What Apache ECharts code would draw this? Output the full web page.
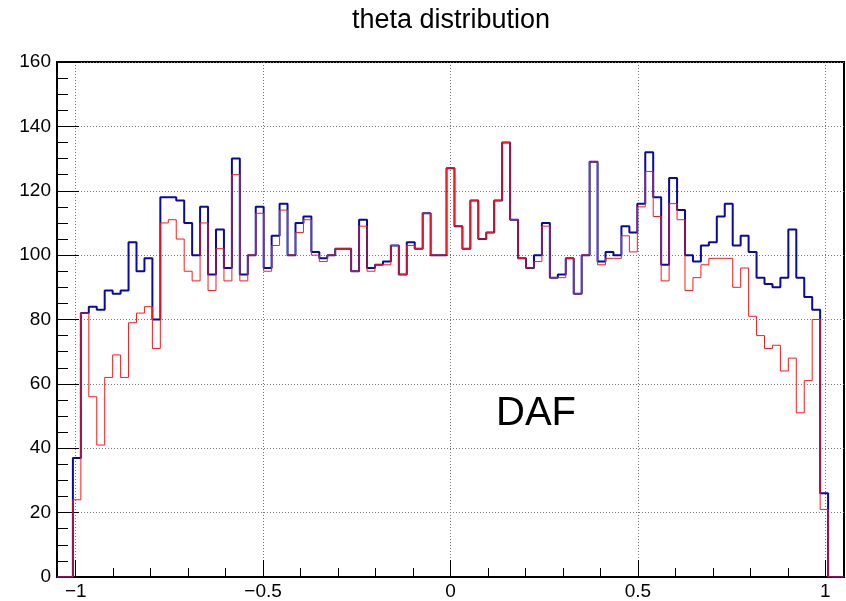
<!DOCTYPE html>
<html>
<head>
<meta charset="utf-8">
<script src="https://cdn.jsdelivr.net/npm/echarts@6/dist/echarts.min.js"></script>
<style>
  html, body { margin: 0; padding: 0; background: #fff; }
  #main { width: 846px; height: 601px; }
</style>
</head>
<body>
<div id="main"></div>
<script>
// histogram range, 99 bins from -1.05 to 1.05
var xMin = -1.05;
var xMax = 1.05;

// bin contents, blue histogram (thick)
var blueCounts = [
  0, 0, 37, 82, 84, 83, 89, 88, 89, 104,
  95, 99, 80, 118, 118, 117, 110, 100, 115, 94,
  108, 96, 130, 94, 100, 115, 96, 106, 116, 100,
  110, 112, 101, 99, 100, 102, 102, 95, 111, 96,
  97, 98, 103, 94, 104, 102, 113, 100, 100, 127,
  109, 102, 117, 105, 107, 117, 135, 111, 99, 96,
  100, 110, 93, 94, 99, 88, 100, 129, 98, 101,
  100, 109, 107, 116, 132, 118, 97, 124, 114, 100,
  98, 103, 104, 112, 116, 103, 106, 101, 93, 91,
  90, 93, 108, 93, 87, 83, 26, 0, 0
];

// bin contents, red histogram (thin)
var redCounts = [
  0, 0, 24, 82, 56, 41, 62, 69, 62, 79,
  82, 84, 71, 110, 111, 105, 95, 92, 110, 89,
  102, 92, 125, 92, 100, 113, 95, 103, 114, 100,
  107, 111, 100, 98, 100, 102, 102, 95, 109, 95,
  97, 97, 103, 94, 103, 102, 113, 100, 100, 127,
  109, 102, 117, 105, 107, 117, 135, 111, 99, 96,
  98, 109, 93, 93, 99, 88, 100, 129, 97, 99,
  99, 106, 101, 115, 126, 112, 92, 116, 111, 89,
  93, 97, 99, 99, 99, 90, 96, 81, 75, 71,
  72, 64, 68, 51, 61, 80, 21, 0, 0
];

var xMajorTicks = [-1, -0.5, 0, 0.5, 1];
var xMinorTicks = [-1, -0.9, -0.8, -0.7, -0.6, -0.5, -0.4, -0.3, -0.2, -0.1, 0,
                   0.1, 0.2, 0.3, 0.4, 0.5, 0.6, 0.7, 0.8, 0.9, 1];

// turn bin contents into step points at the bin edges
function toSteps(counts) {
  var w = (xMax - xMin) / counts.length;
  var pts = [];
  for (var i = 0; i < counts.length; i++) {
    pts.push([xMin + i * w, counts[i]]);
  }
  pts.push([xMax, counts[counts.length - 1]]);
  return pts;
}

var font = 'Liberation Sans, Arial, Helvetica, sans-serif';

var myChart = echarts.init(document.getElementById('main'), null, { renderer: 'canvas' });

var option = {
  animation: false,
  backgroundColor: '#fff',
  grid: {
    left: 57, right: 2, top: 62, bottom: 24,
    show: true, borderColor: '#000', borderWidth: 2
  },
  graphic: [
    {
      type: 'text', x: 451, y: 21,
      style: { text: 'theta distribution', font: '27px ' + font, fill: '#000',
               textAlign: 'center', textVerticalAlign: 'middle' }
    },
    {
      type: 'text', x: 496, y: 414,
      style: { text: 'DAF', font: '40px ' + font, fill: '#000',
               textAlign: 'left', textVerticalAlign: 'middle' }
    }
  ],
  xAxis: [
    {
      type: 'value', min: xMin, max: xMax, position: 'bottom',
      axisLine: { show: true, onZero: false, lineStyle: { color: '#000', width: 2 } },
      axisTick: { show: true, inside: true, length: 17, customValues: xMajorTicks,
                  lineStyle: { color: '#000', width: 1 } },
      axisLabel: { customValues: xMajorTicks, color: '#000', fontSize: 19, fontFamily: font, margin: 5,
                   formatter: function (v) { return String(v).replace('-', '\u2212'); } },
      splitLine: { show: true, lineStyle: { color: '#777', type: [1, 2], width: 1 } }
    },
    {
      type: 'value', min: xMin, max: xMax, position: 'bottom',
      axisLine: { show: false, onZero: false },
      axisTick: { show: true, inside: true, length: 9, customValues: xMinorTicks,
                  lineStyle: { color: '#000', width: 1 } },
      axisLabel: { show: false },
      splitLine: { show: false }
    }
  ],
  yAxis: {
    type: 'value', min: 0, max: 160, interval: 20, position: 'left',
    axisLine: { show: true, onZero: false, lineStyle: { color: '#000', width: 2 } },
    axisTick: { show: true, inside: true, length: 22, lineStyle: { color: '#000', width: 1 } },
    minorTick: { show: true, splitNumber: 4, length: 11, lineStyle: { color: '#000', width: 1 } },
    axisLabel: { color: '#000', fontSize: 19, fontFamily: font, margin: 6 },
    splitLine: { show: true, lineStyle: { color: '#777', type: [1, 2], width: 1 } }
  },
  series: [
    {
      name: 'blue', type: 'line', step: 'end', xAxisIndex: 0,
      data: toSteps(blueCounts),
      showSymbol: false, symbol: 'none',
      lineStyle: { color: '#0a0a9e', width: 2 }
    },
    {
      name: 'red', type: 'line', step: 'end', xAxisIndex: 0,
      data: toSteps(redCounts),
      showSymbol: false, symbol: 'none',
      lineStyle: { color: '#ff1a1a', width: 1 }
    }
  ]
};

myChart.setOption(option);
</script>
</body>
</html>
